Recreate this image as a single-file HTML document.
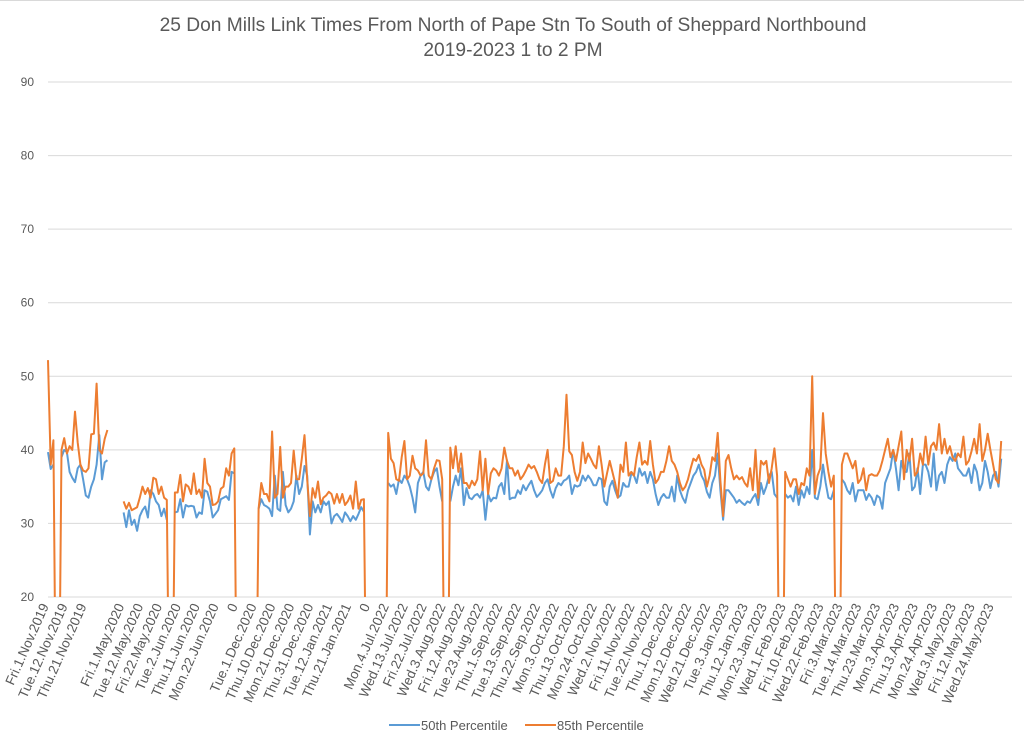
<!DOCTYPE html>
<html><head><meta charset="utf-8">
<style>
html,body{margin:0;padding:0;background:#fff;}
svg{display:block;font-family:"Liberation Sans",sans-serif;}
</style></head>
<body>
<svg id="chart" width="1024" height="746" viewBox="0 0 1024 746" xmlns="http://www.w3.org/2000/svg">
<rect x="0" y="0" width="1024" height="746" fill="#fff"/>
<line x1="0" y1="0.5" x2="1024" y2="0.5" stroke="#d9d9d9"/>
<text x="513" y="31" text-anchor="middle" font-size="19.2" fill="#595959">25 Don Mills Link Times From North of Pape Stn To South of Sheppard Northbound</text>
<text x="513" y="56" text-anchor="middle" font-size="19.2" fill="#595959">2019-2023 1 to 2 PM</text>
<defs><clipPath id="plotclip"><rect x="40" y="60" width="980" height="537"/></clipPath></defs>
<g id="grid"></g>
<g id="series" clip-path="url(#plotclip)"></g>
<g id="xlabels"></g>
<g>
<line x1="389" y1="725" x2="420" y2="725" stroke="#5b9bd5" stroke-width="2"/>
<text x="421" y="730" font-size="13" fill="#595959">50th Percentile</text>
<line x1="525" y1="725" x2="556" y2="725" stroke="#ed7d31" stroke-width="2"/>
<text x="557" y="730" font-size="13" fill="#595959">85th Percentile</text>
</g>
</svg>
<script>
const yTicks = [20,30,40,50,60,70,80,90];
const xLabels = ["Fri.1.Nov.2019","Tue.12.Nov.2019","Thu.21.Nov.2019","","Fri.1.May.2020","Tue.12.May.2020","Fri.22.May.2020","Tue.2.Jun.2020","Thu.11.Jun.2020","Mon.22.Jun.2020","0","Tue.1.Dec.2020","Thu.10.Dec.2020","Mon.21.Dec.2020","Thu.31.Dec.2020","Tue.12.Jan.2021","Thu.21.Jan.2021","0","Mon.4.Jul.2022","Wed.13.Jul.2022","Fri.22.Jul.2022","Wed.3.Aug.2022","Fri.12.Aug.2022","Tue.23.Aug.2022","Thu.1.Sep.2022","Tue.13.Sep.2022","Thu.22.Sep.2022","Mon.3.Oct.2022","Thu.13.Oct.2022","Mon.24.Oct.2022","Wed.2.Nov.2022","Fri.11.Nov.2022","Tue.22.Nov.2022","Thu.1.Dec.2022","Mon.12.Dec.2022","Wed.21.Dec.2022","Tue.3.Jan.2023","Thu.12.Jan.2023","Mon.23.Jan.2023","Wed.1.Feb.2023","Fri.10.Feb.2023","Wed.22.Feb.2023","Fri.3.Mar.2023","Tue.14.Mar.2023","Thu.23.Mar.2023","Mon.3.Apr.2023","Thu.13.Apr.2023","Mon.24.Apr.2023","Wed.3.May.2023","Fri.12.May.2023","Wed.24.May.2023"];
const segStarts = [0, 28, 77, 125];
const p85A = [52.2,38,41.3,0,0,40,41.6,39.5,40.5,40,45.2,41,38,37.2,37,37.5,42.1,42.2,49,40,39.5,41.5,42.7];
const p50A = [39.7,37.4,38,null,null,39,40,39.7,37,36.2,35.6,37.5,38,36,33.8,33.5,35,36,38,42,36,38.3,38.6];
const p85B = [33,32,32.8,31.8,32,32.2,33.5,35,34,34.8,33.5,36.2,36,34,35,33.5,33.2,0,0,34.2,34.2,36.6,33,35.3,35,34,36.8,34,34.6,33.5,38.8,35.5,35,32.5,32.6,33,34.7,35,37.5,36.5,39.5,40.2,0];
const p50B = [31.5,29.5,31.8,29.8,30.5,29,31,31.8,32.3,30.8,34.5,34,33,32.5,31,32,30.5,null,null,31.5,31.6,33.3,30.8,32.5,32.3,32.4,32.3,30.8,31.5,31.3,34.5,34.3,33,30.8,31.3,31.8,33.3,33.5,33.7,33.2,37,36.8,null];
const p85C = [0,32,35.5,34,34,33,42.5,33.5,34,40.4,33.5,35,35,35.5,39.9,36,36,38.8,42,36,31,34.8,33.5,35.7,32.6,33.5,33.8,34.3,34,32.7,34,32.8,34,32.5,33,33.8,32,35.7,32,33.2,33.3,0];
const p50C = [null,32,33.3,32.5,32.3,32,31,36.5,32,31.7,37,32.5,31.5,32,33,36.5,34,35,37.8,36.5,28.5,33,31.5,32.5,31.5,33,32.5,33,30,31,31.3,30.8,30.2,31.5,31,30.3,31,30.5,31.3,32.2,31.6,null];
const p85D = [0,42.3,38.8,38.2,36,35.8,39,41.2,36,36.5,
39.2,37.5,37.2,36.5,36.8,41.3,36.5,36,37.5,38.6,
38.5,36,0,0,40.3,37.5,40.5,37,39.5,35.5,
35.5,34.8,35.8,35.2,36,39.8,34.5,38.8,34,36.8,
37.5,37.2,36.5,37.5,40.3,38.5,37.5,37.5,36.5,37.2,
36,36.5,37.2,38,37.5,37.8,37,36,35.5,38,
40,35.5,35.8,37.5,36.5,36.5,40.5,47.5,39.8,39.3,
37,35.8,37,41,38.2,39.5,38.8,38,37.5,40.5,
38,35,36.8,38.5,37,35.5,33.5,38,37,41,
36.5,37,36.5,39,41,38,38.5,38,41.2,38,
35.5,36,37,37,38.5,40.5,38.5,38,37,35.5,
34.5,35,36,37.5,38.8,38.5,39.3,38,37.3,35,
36.5,39,38.5,42.3,35.8,31,38.5,39.3,37.5,36,
36.5,36,36.3,35.5,35,37.5,34.5,40,33.5,38.5,
38,38.5,35.5,37.5,40.2,36.5,0,0,37,36,
35,36,36,34,35.5,35.2,37.5,36.5,50,34,
36.5,37.5,45,39.5,37,35,36.5,0,0,38,
39.5,39.5,38.5,37.5,38.5,35.5,36,37.5,34.5,36.5,
36.7,36.5,36.5,37.2,38.5,40,41.5,39,40,38.5,
40.5,42.5,36,40,38.5,41.5,36.5,37,39.5,38,
41.8,38,40.5,41,40,43.5,39.5,41.5,39.5,40.5,
39,38.5,39.5,39,41.8,38,38.5,39.8,41.5,39.5,
43.5,38.5,40,42.2,40,38,36,35.5,41.2];
const p50D = [null,35.5,35,35.3,34,36,35.5,36.5,36,35,
33.5,31.5,35.5,36.5,37,35,34.5,36,37,37.5,
35,33,null,null,33,35,36.5,35.2,37.5,32.5,
34.8,33.5,33.3,33.8,34,33.5,34.5,30.5,34,33,
33.5,33.4,35,35.5,34,38.6,33.3,33.5,33.5,34.5,
34,35.2,34.5,35.2,35.8,34.5,33.6,34,34.5,35.5,
36,34.5,33.5,34.8,35.5,35.2,35.8,36,36.5,34,
35.2,35,35.2,36.5,35.8,36.5,36,35.2,35.2,36.2,
36,33,32.5,35,35.8,34.5,33.5,33.8,35.5,35,
35,36.8,36.5,35.5,37.5,36.5,37,35.5,37,36,
34,32.5,33.5,34,33.5,33.5,35,33,36.5,34.5,
33.5,32.8,34.5,35.5,36.5,37,38,36.5,35.8,34.3,
33.5,35.5,36.5,39.5,34.5,30.5,34.5,34.5,34,33.5,
32.8,33.2,32.8,32.5,33,32.8,33.5,34,32.5,35.5,
34,35,36.5,37,34,33.5,null,null,34,33.5,
33.8,33,35,32.5,34.5,33.5,35,34,40,33.5,
33.3,35,38,35.5,33.5,33.3,34.5,null,null,36,
35.5,34.5,34,35.5,33,34.5,34.5,34.5,33.2,34,
33.5,32.5,33.8,33.5,32,35.5,36.5,37.5,40,37.5,
34.5,38.5,37,37,39.5,34.5,35,37.5,34,38,
38,37,35,39.5,34.5,36.5,37,35.5,38,39,
38.5,39.5,37.5,37,36.5,36.5,37.5,35.5,38,37,
34.5,35.5,38.5,37,34.8,36.5,37,35,38.8];
const p50Segs = [p50A,p50B,p50C,p50D];
const p85Segs = [p85A,p85B,p85C,p85D];

const NS = "http://www.w3.org/2000/svg";
const X0 = 48, X1 = 1012, NCAT = 358;
const STEP = (X1 - X0) / (NCAT - 1);
const yMin = 20, yMax = 90, Y0 = 597, Y1 = 82;
function xScale(i){ return X0 + i * STEP; }
function yScale(v){ return Y0 - (v - yMin) / (yMax - yMin) * (Y0 - Y1); }

const grid = document.getElementById('grid');
yTicks.forEach(t => {
  const ln = document.createElementNS(NS,'line');
  ln.setAttribute('x1', X0); ln.setAttribute('x2', X1);
  ln.setAttribute('y1', yScale(t)); ln.setAttribute('y2', yScale(t));
  ln.setAttribute('stroke', '#d9d9d9'); ln.setAttribute('stroke-width','1');
  
  
  grid.appendChild(ln);
  const tx = document.createElementNS(NS,'text');
  tx.setAttribute('x', 34); tx.setAttribute('y', yScale(t) + 4);
  tx.setAttribute('text-anchor','end'); tx.setAttribute('font-size','12'); tx.setAttribute('fill','#595959');
  tx.textContent = t;
  
  
  grid.appendChild(tx);
});

const xl = document.getElementById('xlabels');
xLabels.forEach((lab, k) => {
  if (!lab) return;
  const x = xScale(k * 7) + 1, y = 606;
  const tx = document.createElementNS(NS,'text');
  tx.setAttribute('x', x); tx.setAttribute('y', y);
  tx.setAttribute('text-anchor','end'); tx.setAttribute('font-size','13.5'); tx.setAttribute('fill','#595959');
  tx.setAttribute('transform', 'rotate(-66 ' + x + ' ' + y + ')');
  tx.textContent = lab;
  
  
  xl.appendChild(tx);
});

const sg = document.getElementById('series');
function drawSeries(segs, color, name){
  segs.forEach((arr, s) => {
    let pts = [];
    const flush = () => {
      if (pts.length > 1) {
        const pl = document.createElementNS(NS,'polyline');
        pl.setAttribute('points', pts.join(' '));
        pl.setAttribute('fill','none'); pl.setAttribute('stroke', color);
        pl.setAttribute('stroke-width','2'); pl.setAttribute('stroke-linejoin','round');
        
        
        sg.appendChild(pl);
      }
      pts = [];
    };
    arr.forEach((v, j) => {
      if (v === null) { flush(); return; }
      pts.push(xScale(segStarts[s] + j).toFixed(1) + ',' + yScale(v).toFixed(1));
    });
    flush();
  });
}
drawSeries(p50Segs, '#5b9bd5', 'p50');
drawSeries(p85Segs, '#ed7d31', 'p85');
</script>
</body></html>
